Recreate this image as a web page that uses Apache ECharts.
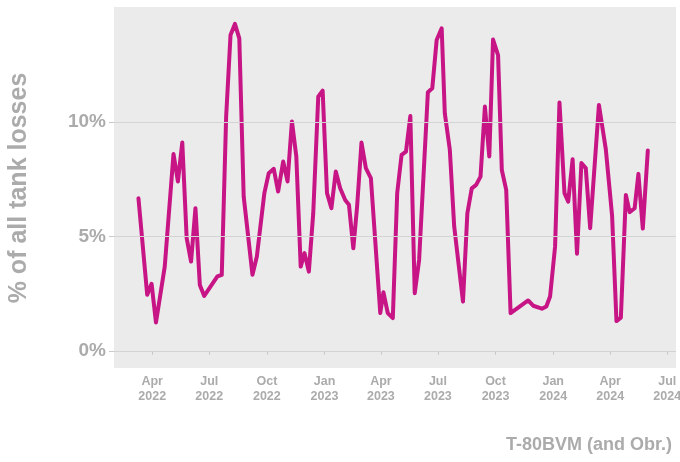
<!DOCTYPE html>
<html>
<head>
<meta charset="utf-8">
<script src="https://cdn.jsdelivr.net/npm/echarts@6/dist/echarts.min.js"></script>
<style>html,body{margin:0;padding:0;background:#fff}#c{width:680px;height:462px}</style>
</head>
<body>
<div id="c"></div>
<script>
var dates = ['2022-03-10','2022-03-24','2022-03-31','2022-04-07','2022-04-21','2022-05-05','2022-05-12','2022-05-19','2022-05-26','2022-06-02',
'2022-06-09','2022-06-16','2022-06-23','2022-07-14','2022-07-21','2022-07-28','2022-08-04','2022-08-11','2022-08-18','2022-08-25',
'2022-09-08','2022-09-15','2022-09-27','2022-10-04','2022-10-12','2022-10-19','2022-10-27','2022-11-03','2022-11-10','2022-11-17',
'2022-11-24','2022-11-30','2022-12-07','2022-12-14','2022-12-22','2022-12-29','2023-01-05','2023-01-12','2023-01-19','2023-01-26',
'2023-02-03','2023-02-09','2023-02-16','2023-02-22','2023-03-01','2023-03-08','2023-03-16','2023-03-31','2023-04-05','2023-04-12',
'2023-04-20','2023-04-27','2023-05-04','2023-05-11','2023-05-18','2023-05-25','2023-06-01','2023-06-15','2023-06-22','2023-06-29',
'2023-07-07','2023-07-12','2023-07-20','2023-07-27','2023-08-10','2023-08-17','2023-08-24','2023-08-31','2023-09-07','2023-09-14',
'2023-09-21','2023-09-27','2023-10-05','2023-10-11','2023-10-18','2023-10-25','2023-11-22','2023-11-30','2023-12-14','2023-12-21',
'2023-12-27','2024-01-04','2024-01-11','2024-01-19','2024-01-25','2024-02-01','2024-02-08','2024-02-15','2024-02-22','2024-02-29',
'2024-03-14','2024-03-25','2024-04-04','2024-04-11','2024-04-18','2024-04-26','2024-05-02','2024-05-10','2024-05-16','2024-05-23',
'2024-05-31'];
var shares = [6.67,2.45,2.93,1.24,3.68,8.6,7.4,9.1,4.92,3.9,
6.23,2.88,2.4,3.25,3.32,10.23,13.8,14.28,13.65,6.74,
3.32,4.12,6.89,7.76,7.95,6.96,8.27,7.4,10.02,8.49,
3.68,4.27,3.46,6.01,11.1,11.37,6.89,6.23,7.83,7.1,
6.59,6.38,4.48,6.3,9.1,7.98,7.54,1.65,2.56,1.65,
1.43,6.89,8.56,8.7,10.26,2.52,3.97,11.3,11.47,13.58,
14.09,10.38,8.78,5.43,2.15,6.01,7.1,7.25,7.61,10.67,
8.49,13.6,12.92,7.9,7.03,1.65,2.2,1.97,1.84,1.94,
2.37,4.55,10.85,6.89,6.52,8.37,4.24,8.2,7.98,5.36,
10.74,8.8,5.9,1.3,1.45,6.81,6.06,6.23,7.73,5.34,
8.75];
var xTickDates = ['2022-04-01','2022-07-01','2022-10-01','2023-01-01','2023-04-01','2023-07-01','2023-10-01','2024-01-01','2024-04-01','2024-07-01'];
var yTicks = [0, 5, 10];
var monthNames = ['Jan','Feb','Mar','Apr','May','Jun','Jul','Aug','Sep','Oct','Nov','Dec'];
var seriesName = 'T-80BVM (and Obr.)';
var yTitle = '% of all tank losses';

function ts(s){ var p = s.split('-'); return Date.UTC(+p[0], +p[1]-1, +p[2]); }
var lineData = dates.map(function(d,i){ return [ts(d), shares[i]]; });
var xTicks = xTickDates.map(ts);
var gray = '#ababab';

var chart = echarts.init(document.getElementById('c'), null, {renderer:'canvas'});
chart.setOption({
  animation: false,
  backgroundColor: '#ffffff',
  grid: { left: 114, right: 4, top: 7, bottom: 94, show: true, backgroundColor: '#ebebeb', borderWidth: 0,
    containLabel: false, outerBoundsMode: 'none' },
  xAxis: {
    type: 'value',
    min: Date.UTC(2022,0,30), max: Date.UTC(2024,6,15),
    axisLine: { show: false },
    splitLine: { show: false },
    axisTick: { show: true, customValues: xTicks, length: 4, lineStyle: { color: '#c8c8c8' } },
    axisLabel: {
      customValues: xTicks, margin: 6, color: gray, fontFamily: 'Liberation Sans, Arial, sans-serif',
      fontWeight: 'bold', fontSize: 12.5, lineHeight: 15, hideOverlap: false,
      formatter: function(v){ var d = new Date(v); return monthNames[d.getUTCMonth()] + '\n' + d.getUTCFullYear(); }
    }
  },
  yAxis: {
    type: 'value', min: -0.75, max: 15.02,
    axisLine: { show: false },
    splitLine: { show: false },
    axisTick: { show: true, customValues: yTicks, length: 5, lineStyle: { color: '#c8c8c8' } },
    axisLabel: { customValues: yTicks, margin: 8, color: gray, fontFamily: 'Liberation Sans, Arial, sans-serif',
      fontWeight: 'bold', fontSize: 19, formatter: function(v){ return v + '%'; } }
  },
  series: [
    { type: 'line', data: [], z: 1, silent: true,
      markLine: { silent: true, symbol: 'none', label: { show: false },
        lineStyle: { color: '#d3d3d3', width: 1, type: 'solid' },
        data: yTicks.map(function(v){ return { yAxis: v }; }) } },
    { type: 'line', name: seriesName, data: lineData, z: 3, showSymbol: false, symbol: 'none',
      lineStyle: { color: '#c71585', width: 4, join: 'round', cap: 'round' } }
  ],
  graphic: [
    { type: 'text', x: 19, y: 188, rotation: Math.PI/2,
      style: { text: yTitle, fill: gray, font: 'bold 25px "Liberation Sans", Arial, sans-serif', align: 'center', verticalAlign: 'middle' } },
    { type: 'text', x: 672, y: 445,
      style: { text: seriesName, fill: gray, font: 'bold 18px "Liberation Sans", Arial, sans-serif', align: 'right', verticalAlign: 'middle' } }
  ]
});
</script>
</body>
</html>
